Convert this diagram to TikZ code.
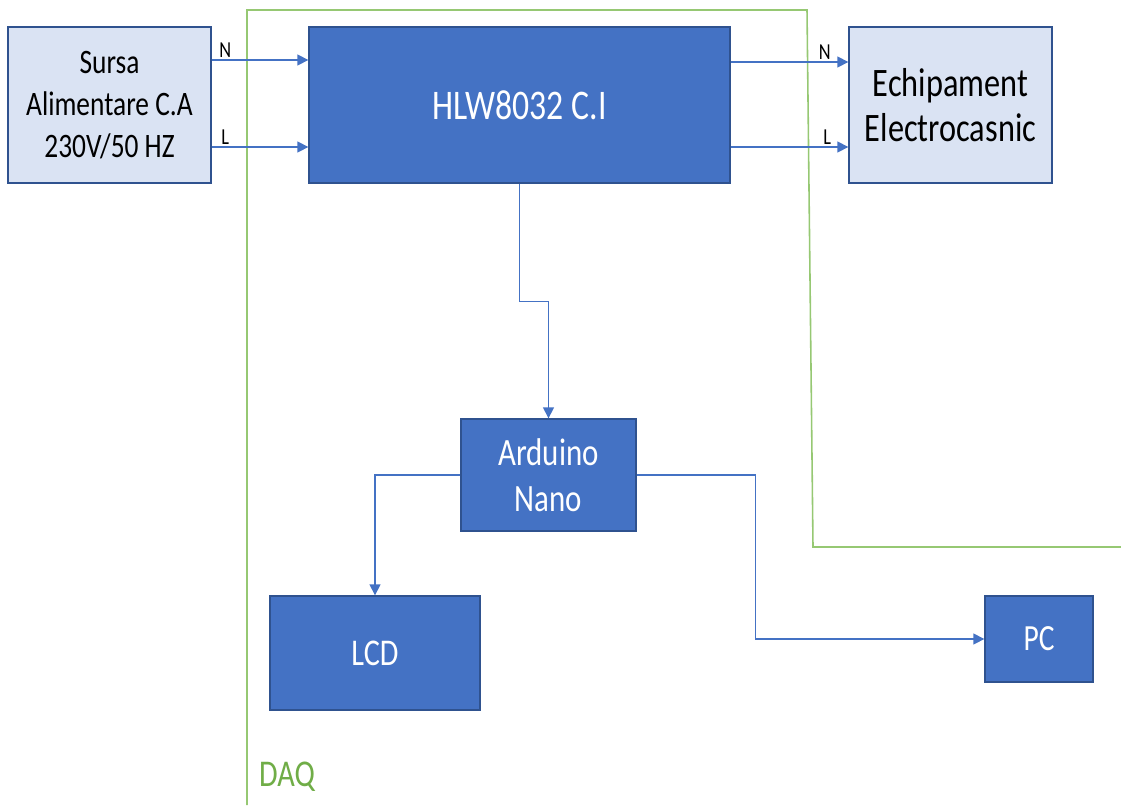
\documentclass[tikz,border=0pt]{standalone}
\usepackage{fontspec}
\setmainfont[FakeStretch=0.8]{Carlito}
\usepackage{tikz}
\usetikzlibrary{arrows.meta,positioning}
\definecolor{darkblue}{RGB}{68,114,196}
\definecolor{edgeblue}{RGB}{47,82,143}
\definecolor{paleblue}{RGB}{218,227,243}
\definecolor{daqgreen}{RGB}{112,173,71}
\definecolor{linegreen}{RGB}{150,200,115}
\tikzset{
  block/.style={rectangle, draw=edgeblue, line width=0.8pt, fill=darkblue, text=white,
                align=center, inner sep=0pt},
  blocklight/.style={block, fill=paleblue, text=black},
  arrow/.style={-{Triangle[length=2.2mm,width=2.2mm]}, line width=0.85pt, darkblue},
  wirelabel/.style={font=\fontsize{13}{15}\selectfont, inner sep=1pt, text=black},
}

\begin{document}
\begin{tikzpicture}[x=0.02cm,y=-0.02cm]
\useasboundingbox (0,0) rectangle (1121,805);
% boxes
\node[blocklight, minimum width=4.06cm, minimum height=3.12cm,
      font=\fontsize{19.5}{24}\selectfont] (sursa) at (109.5,105)
      {Sursa\\Alimentare C.A\\230V/50 HZ};
\node[block, minimum width=8.42cm, minimum height=3.12cm,
      font=\fontsize{24}{28}\selectfont] (hlw) at (519.5,105) {HLW8032 C.I};
\node[blocklight, minimum width=4.06cm, minimum height=3.12cm,
      font=\fontsize{23}{26}\selectfont] (aparat) at (950.5,105)
      {Echipament\\Electrocasnic};
\node[block, minimum width=3.5cm, minimum height=2.24cm,
      font=\fontsize{22}{26.5}\selectfont] (arduino) at (548.5,475) {Arduino\\Nano};
\node[block, minimum width=4.2cm, minimum height=2.28cm,
      font=\fontsize{21.5}{26}\selectfont] (lcd) at (375,653) {LCD};
\node[block, minimum width=2.16cm, minimum height=1.72cm,
      font=\fontsize{21}{24}\selectfont] (pc) at (1039,639) {PC};
% DAQ border
\draw[linegreen, line width=0.9pt] (247,805) -- (247,10) -- (807,10) -- (813,547) -- (1121,547);
\node[text=daqgreen, font=\fontsize{21.5}{26}\selectfont, inner sep=0pt] (daq) at (287,777) {DAQ};
% wires
\coordinate (nIn) at (0,60);
\coordinate (lIn) at (0,147);
\coordinate (nOut) at (0,62);
\coordinate (lOut) at (0,147);
\draw[arrow] (sursa.east |- nIn) -- (hlw.west |- nIn)
  node[pos=0.14, above, wirelabel] {N};
\draw[arrow] (sursa.east |- lIn) -- (hlw.west |- lIn)
  node[pos=0.14, above, wirelabel] {L};
\draw[arrow] (hlw.east |- nOut) -- (aparat.west |- nOut)
  node[pos=0.8, above, wirelabel] {N};
\draw[arrow] (hlw.east |- lOut) -- (aparat.west |- lOut)
  node[pos=0.82, above, wirelabel] {L};
\draw[arrow] (hlw.south) -- ++(0,118) -| (arduino.north);
\draw[arrow] (arduino.west) -| (lcd.north);
\draw[arrow] (arduino.east) -- ++(119,0) |- (pc.west);
\end{tikzpicture}
\end{document}
